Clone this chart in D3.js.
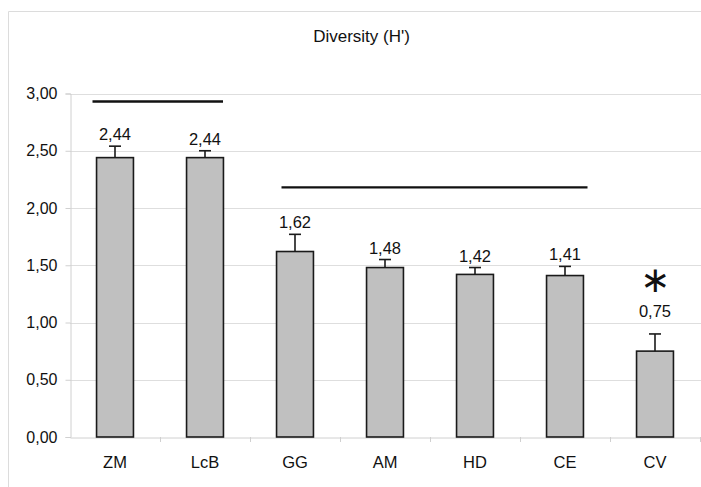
<!DOCTYPE html>
<html>
<head>
<meta charset="utf-8">
<script src="https://cdn.jsdelivr.net/npm/d3@7"></script>
<style>
  body { margin: 0; background: #fff; }
  svg { display: block; font-family: "Liberation Sans", Arial, sans-serif; }
</style>
</head>
<body>
<div id="chart"></div>
<script>
const categories = ["ZM", "LcB", "GG", "AM", "HD", "CE", "CV"];
const diversity = [2.44, 2.44, 1.62, 1.48, 1.42, 1.41, 0.75];
const errors = [0.10, 0.06, 0.15, 0.07, 0.06, 0.08, 0.15];
const yTicks = [0, 0.5, 1, 1.5, 2, 2.5, 3];
const brackets = [
    { from: "ZM", to: "LcB", level: 2.93 },
    { from: "GG", to: "CE", level: 2.18 }
];
const flagged = ["CV"];
const title = "Diversity (H')";

const width = 701, height = 487;
const fmt = v => d3.format(".2f")(v).replace(".", ",");

const data = categories.map((c, i) => ({ cat: c, value: diversity[i], err: errors[i] }));

const svg = d3.select("#chart").append("svg")
    .attr("width", width)
    .attr("height", height);

// chart frame (only top and left edge are visible)
svg.append("path")
    .attr("d", `M8.5,${height} V11.5 H${width}`)
    .attr("fill", "none")
    .attr("stroke", "#dcdcdc");

const x = d3.scaleBand()
    .domain(categories)
    .range([70, 700])
    .padding(0);

const y = d3.scaleLinear()
    .domain([0, 3])
    .range([437, 93.5]);

// gridlines
svg.append("g")
    .selectAll("line")
    .data(yTicks.filter(t => t > 0))
    .join("line")
    .attr("x1", 70)
    .attr("x2", width)
    .attr("y1", d => Math.round(y(d)) + 0.5)
    .attr("y2", d => Math.round(y(d)) + 0.5)
    .attr("stroke", "#dedede");

// y axis
const yAxis = svg.append("g")
    .attr("transform", "translate(70.5,0)")
    .call(d3.axisLeft(y).tickValues(yTicks).tickFormat(fmt).tickSize(5).tickPadding(8));
yAxis.select(".domain").attr("stroke", "#d0d0d0");
yAxis.selectAll(".tick line").attr("stroke", "#d0d0d0");
yAxis.selectAll(".tick text")
    .attr("font-size", 16)
    .attr("font-family", "Liberation Sans, Arial, sans-serif")
    .attr("fill", "#111");

// x axis
const xAxis = svg.append("g")
    .attr("transform", `translate(0,${Math.round(y(0)) + 0.5})`)
    .call(d3.axisBottom(x).tickSize(0).tickPadding(19));
xAxis.select(".domain").attr("stroke", "#d0d0d0");
xAxis.selectAll(".tick text")
    .attr("font-size", 16.5)
    .attr("font-family", "Liberation Sans, Arial, sans-serif")
    .attr("fill", "#111");
// category separators
svg.append("g")
    .selectAll("line")
    .data(categories.slice(1).concat(["end"]))
    .join("line")
    .attr("x1", d => d === "end" ? 700.5 : x(d) + 0.5)
    .attr("x2", d => d === "end" ? 700.5 : x(d) + 0.5)
    .attr("y1", y(0))
    .attr("y2", y(0) + 5)
    .attr("stroke", "#d0d0d0");

const barW = x.bandwidth() * 0.41;
const cx = d => x(d.cat) + x.bandwidth() / 2;

// bars
svg.append("g")
    .selectAll("rect")
    .data(data)
    .join("rect")
    .attr("x", d => cx(d) - barW / 2)
    .attr("y", d => y(d.value))
    .attr("width", barW)
    .attr("height", d => y(0) - y(d.value))
    .attr("fill", "#c0c0c0")
    .attr("stroke", "#1a1a1a")
    .attr("stroke-width", 1.6);

// error bars (upper only)
const eb = svg.append("g")
    .attr("stroke", "#1a1a1a")
    .attr("stroke-width", 1.6);
eb.selectAll(".stem")
    .data(data)
    .join("line")
    .attr("class", "stem")
    .attr("x1", cx).attr("x2", cx)
    .attr("y1", d => y(d.value))
    .attr("y2", d => y(d.value + d.err));
eb.selectAll(".cap")
    .data(data)
    .join("line")
    .attr("class", "cap")
    .attr("x1", d => cx(d) - 6).attr("x2", d => cx(d) + 6)
    .attr("y1", d => y(d.value + d.err))
    .attr("y2", d => y(d.value + d.err));

// value labels
const labelLift = { CV: 11 };
svg.append("g")
    .selectAll("text")
    .data(data)
    .join("text")
    .attr("x", cx)
    .attr("y", d => y(d.value + d.err) - 6 - (labelLift[d.cat] || 0))
    .attr("text-anchor", "middle")
    .attr("font-size", 16.5)
    .attr("fill", "#111")
    .text(d => fmt(d.value));

// significance marker
svg.append("g")
    .selectAll("text")
    .data(data.filter(d => flagged.includes(d.cat)))
    .join("text")
    .attr("x", cx)
    .attr("y", d => y(d.value + d.err) - 42)
    .attr("text-anchor", "middle")
    .attr("font-family", "DejaVu Sans, sans-serif")
    .attr("font-size", 36)
    .attr("fill", "#111")
    .text("\u2217");

// grouping lines
const span = [[0.25, 0.7], [0.35, 0.75]];
svg.append("g")
    .selectAll("line")
    .data(brackets)
    .join("line")
    .attr("x1", (d, i) => x(d.from) + x.bandwidth() * span[i][0])
    .attr("x2", (d, i) => x(d.to) + x.bandwidth() * span[i][1])
    .attr("y1", d => y(d.level))
    .attr("y2", d => y(d.level))
    .attr("stroke", "#111")
    .attr("stroke-width", 2.4);

// title
svg.append("text")
    .attr("x", 361.5)
    .attr("y", 42)
    .attr("text-anchor", "middle")
    .attr("font-size", 17)
    .attr("fill", "#111")
    .text(title);
</script>
</body>
</html>
